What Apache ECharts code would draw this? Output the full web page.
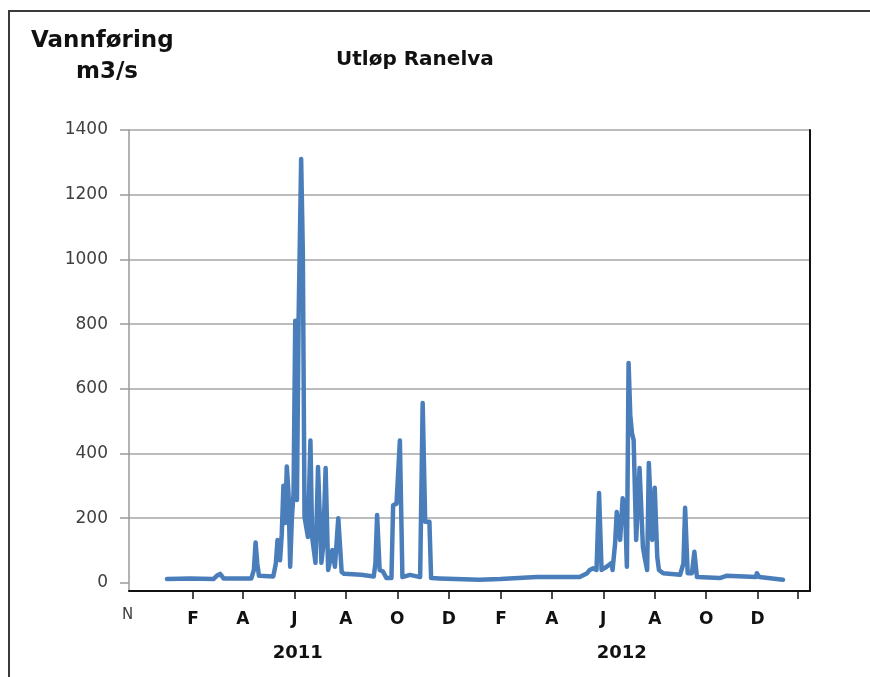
<!DOCTYPE html>
<html>
<head>
<meta charset="utf-8">
<script src="https://cdn.jsdelivr.net/npm/echarts@6/dist/echarts.min.js"></script>
<style>
  html, body { margin: 0; padding: 0; background: #fff; overflow: hidden; }
  #frame { position: absolute; left: 8px; top: 10px; width: 860px; height: 665px;
           border-left: 2px solid #3a3a3a; border-top: 2px solid #3a3a3a; }
  #chart { position: absolute; left: 0; top: 0; width: 870px; height: 677px; }
</style>
</head>
<body>
<div id="frame"></div>
<div id="chart"></div>
<script>
// x values are days counted from 1 Jan 2011
const yTicks = [0, 200, 400, 600, 800, 1000, 1200, 1400];
const monthTickDays = [31, 90, 151, 212, 273, 334, 396, 456, 517, 578, 639, 700, 747];
const monthLabels = ['F', 'A', 'J', 'A', 'O', 'D', 'F', 'A', 'J', 'A', 'O', 'D', ''];
const yearDays = [155, 539];
const yearLabels = ['2011', '2012'];

// daily flow, key points (m3/s)
const flowDay = [
  0, 27, 55, 59, 63, 67, 100, 103, 105, 107, 109, 126, 129, 131, 134, 136, 138, 140,
  142, 144, 146, 148, 150, 152, 154, 156, 159, 161, 163, 167, 170, 172, 176, 179,
  183, 185, 188, 191, 196, 199, 203, 207, 210, 230, 245, 247, 249, 252, 256, 260,
  266, 268, 272, 276, 279, 288, 300, 303, 306, 311, 313, 323, 370, 395, 438, 489,
  498, 501, 505, 509, 512, 515, 521, 527, 528, 531, 533, 537, 540, 543, 545, 547,
  549, 551, 553, 556, 560, 564, 566, 569, 571, 575, 578, 581, 583, 588, 608, 612,
  614, 617, 622, 625, 628, 655, 663, 698, 699, 702, 730
];
const flowValue = [
  12, 14, 12, 22, 28, 14, 14, 40, 125, 60, 22, 20, 60, 133, 70, 150, 300, 185,
  360, 278, 50, 200, 278, 810, 256, 820, 1310, 1020, 204, 142, 440, 142, 62, 358,
  62, 111, 355, 40, 102, 50, 200, 34, 28, 25, 20, 60, 210, 40, 35, 15,
  15, 240, 245, 440, 18, 25, 18, 556, 189, 189, 15, 14, 10, 12, 18, 18,
  30, 40, 45, 40, 278, 40, 50, 62, 40, 120, 219, 133, 262, 216, 50, 680,
  520, 463, 442, 133, 355, 111, 80, 40, 371, 133, 294, 80, 40, 30, 25, 60,
  232, 30, 30, 96, 18, 15, 22, 18, 30, 18, 10
];

const chart = echarts.init(document.getElementById('chart'), null, { renderer: 'canvas' });

const gridColors = yTicks.map((v, i) => (i === 0 ? 'rgba(0,0,0,0)' : '#a6a6a6'));

const option = {
  animation: false,
  textStyle: { fontFamily: 'DejaVu Sans' },
  title: {
    text: 'Utløp Ranelva',
    left: 331,
    top: 45,
    textStyle: { fontSize: 20, fontWeight: 'bold', color: '#111', fontFamily: 'DejaVu Sans' }
  },
  graphic: [
    { type: 'text', left: 31, top: 30,
      style: { text: 'Vannføring', font: 'bold 23px "DejaVu Sans"', fill: '#111' } },
    { type: 'text', left: 76, top: 61,
      style: { text: 'm3/s', font: 'bold 23px "DejaVu Sans"', fill: '#111' } },
    { type: 'text', left: 122, top: 608,
      style: { text: 'N', font: '15px "DejaVu Sans"', fill: '#404040' } }
  ],
  grid: { left: 129, right: 60, top: 130, bottom: 86, containLabel: false },
  xAxis: [
    {
      type: 'value', min: -45, max: 762, position: 'bottom',
      axisLine: { show: true, onZero: false, lineStyle: { color: '#111', width: 2 } },
      axisTick: { show: true, customValues: monthTickDays, length: 8,
                  lineStyle: { color: '#111', width: 1.5 } },
      axisLabel: {
        customValues: monthTickDays.slice(0, 12),
        formatter: v => monthLabels[monthTickDays.indexOf(v)],
        margin: 20, fontSize: 17, fontWeight: 'bold', color: '#111'
      },
      splitLine: { show: false }
    },
    {
      type: 'value', min: -45, max: 762, position: 'bottom',
      axisLine: { show: false, onZero: false }, axisTick: { show: false },
      axisLabel: {
        customValues: yearDays,
        formatter: v => yearLabels[yearDays.indexOf(v)],
        margin: 53, fontSize: 18, fontWeight: 'bold', color: '#111'
      },
      splitLine: { show: false }
    }
  ],
  yAxis: [
    {
      type: 'value', min: -25, max: 1400, position: 'left',
      axisLine: { show: true, onZero: false, lineStyle: { color: '#9a9a9a', width: 1.5 } },
      axisTick: { show: true, customValues: yTicks, length: 9,
                  lineStyle: { color: '#9a9a9a', width: 1.5 } },
      axisLabel: { customValues: yTicks, formatter: v => String(v),
                   margin: 21, fontSize: 17, color: '#404040' },
      splitLine: { show: true, lineStyle: { color: gridColors, width: 1.5 } }
    },
    {
      type: 'value', min: -25, max: 1400, position: 'right',
      axisLine: { show: true, onZero: false, lineStyle: { color: '#111', width: 2 } },
      axisTick: { show: false }, axisLabel: { show: false }, splitLine: { show: false }
    }
  ],
  series: [
    {
      type: 'line',
      xAxisIndex: 0,
      yAxisIndex: 0,
      data: flowDay.map((d, i) => [d, flowValue[i]]),
      showSymbol: false,
      lineStyle: { color: '#4a7ebb', width: 4.5, join: 'round', cap: 'round' }
    }
  ]
};

chart.setOption(option);
</script>
</body>
</html>
